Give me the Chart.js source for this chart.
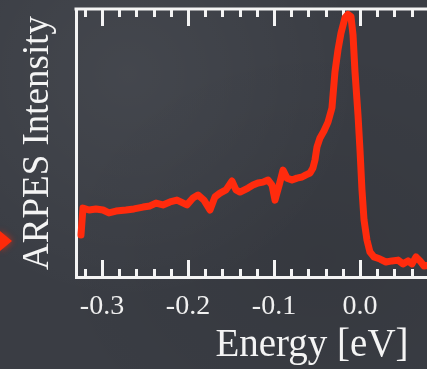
<!DOCTYPE html>
<html>
<head>
<meta charset="utf-8">
<script src="https://cdn.jsdelivr.net/npm/chart.js@4.4.0/dist/chart.umd.min.js"></script>
<style>
    html, body {
        margin: 0;
        padding: 0;
        width: 427px;
        height: 369px;
        overflow: hidden;
    }
    body {
        background-color: #3a3d44;
        background-image:
            radial-gradient(ellipse at 30% 20%, rgba(255,255,255,0.05), rgba(255,255,255,0) 55%),
            radial-gradient(ellipse at 75% 70%, rgba(0,0,0,0.08), rgba(0,0,0,0) 60%);
    }
    #chartBox {
        position: relative;
        width: 427px;
        height: 369px;
        overflow: hidden;
    }
</style>
</head>
<body>
<div id="chartBox">
    <!-- the plot runs on past the right edge of the window, as in the slide -->
    <canvas id="arpesChart" width="548" height="369"></canvas>
</div>
<script>
// Energy (eV) and intensity (arb. units, 0-100)
const energy = [
    -0.3244, -0.3221, -0.3151, -0.3070, -0.2988, -0.2919, -0.2837, -0.2721, -0.2628, -0.2523,
    -0.2442, -0.2372, -0.2291, -0.2209, -0.2128, -0.2012, -0.1942, -0.1884, -0.1814, -0.1744,
    -0.1686, -0.1628, -0.1558, -0.1488, -0.1442, -0.1395, -0.1302, -0.1244, -0.1186, -0.1128,
    -0.1070, -0.1023, -0.0988, -0.0942, -0.0895, -0.0849, -0.0791, -0.0733, -0.0674, -0.0628,
    -0.0581, -0.0547, -0.0523, -0.0500, -0.0465, -0.0419, -0.0372, -0.0326, -0.0291, -0.0256,
    -0.0221, -0.0174, -0.0140, -0.0105, -0.0081, -0.0058, -0.0023, 0.0000, 0.0023, 0.0047,
    0.0081, 0.0116, 0.0163, 0.0233, 0.0302, 0.0372, 0.0442, 0.0500, 0.0558, 0.0605,
    0.0651, 0.0698, 0.0744, 0.0814
];
const intensity = [
    15.7, 25.7, 25.0, 25.4, 25.0, 23.9, 24.6, 25.0, 25.4, 26.1,
    26.5, 27.6, 26.9, 28.0, 28.7, 26.9, 29.5, 30.6, 28.7, 25.0,
    29.9, 31.3, 32.5, 35.8, 32.5, 31.7, 33.2, 34.3, 35.1, 35.4,
    36.2, 34.3, 28.7, 34.0, 39.9, 36.9, 36.2, 36.9, 37.3, 38.1,
    38.8, 40.7, 43.7, 48.5, 51.9, 54.5, 57.8, 63.1, 76.5, 84.7,
    91.0, 96.8, 98.0, 97.2, 90.3, 76.5, 60.4, 47.4, 32.5, 21.3,
    13.8, 9.3, 7.5, 6.7, 5.6, 6.0, 6.3, 4.9, 6.0, 4.9,
    7.5, 6.0, 4.1, 4.5
];

// axis ticks
const majorTicks = [-0.3, -0.2, -0.1, 0.0];
const minorTicks = [
    -0.32, -0.28, -0.26, -0.24, -0.22, -0.18, -0.16, -0.14, -0.12,
    -0.08, -0.06, -0.04, -0.02, 0.02, 0.04, 0.06, 0.08
];

const xMin = -0.3302;
const xMax = 0.2186;

// draws the top frame line and the inward tick marks
const frameTicks = {
    id: 'frameTicks',
    beforeDatasetsDraw(chart) {
        const ctx = chart.ctx;
        const area = chart.chartArea;
        const x = chart.scales.x;
        ctx.save();
        ctx.strokeStyle = '#f4f4f4';
        ctx.lineWidth = 3;
        ctx.beginPath();
        ctx.moveTo(area.left - 1.5, area.top);
        ctx.lineTo(chart.width, area.top);
        ctx.stroke();

        const drawTick = (v, len) => {
            const px = Math.round(x.getPixelForValue(v)) + 0.5;
            ctx.beginPath();
            ctx.moveTo(px, area.top);
            ctx.lineTo(px, area.top + len);
            ctx.moveTo(px, area.bottom);
            ctx.lineTo(px, area.bottom - len);
            ctx.stroke();
        };
        majorTicks.forEach(v => drawTick(v, 17));
        minorTicks.forEach(v => drawTick(v, 8));
        ctx.restore();
    },
    afterDraw(chart) {
        // red bullet arrow on the left edge
        const ctx = chart.ctx;
        ctx.save();
        ctx.fillStyle = '#ff2a0a';
        ctx.shadowColor = 'rgba(255, 40, 10, 0.8)';
        ctx.shadowBlur = 6;
        ctx.beginPath();
        ctx.moveTo(0, 231);
        ctx.lineTo(12, 241);
        ctx.lineTo(0, 251);
        ctx.closePath();
        ctx.fill();
        ctx.restore();
    }
};

const ctx = document.getElementById('arpesChart').getContext('2d');

new Chart(ctx, {
    type: 'line',
    data: {
        datasets: [{
            label: 'ARPES',
            data: energy.map((e, i) => ({ x: e, y: intensity[i] })),
            borderColor: '#ff2b0d',
            borderWidth: 7,
            borderJoinStyle: 'round',
            borderCapStyle: 'round',
            pointRadius: 0,
            tension: 0,
            fill: false
        }]
    },
    options: {
        responsive: false,
        animation: false,
        layout: {
            padding: { top: 9, right: 0, bottom: 0, left: 0 }
        },
        plugins: {
            legend: { display: false },
            tooltip: { enabled: false }
        },
        scales: {
            x: {
                type: 'linear',
                min: xMin,
                max: xMax,
                afterBuildTicks: scale => {
                    scale.ticks = majorTicks.map(v => ({ value: v }));
                },
                afterFit: scale => { scale.height = 92; },
                grid: { display: false, drawTicks: false },
                border: { display: true, color: '#f4f4f4', width: 3 },
                ticks: {
                    color: '#f0f0f0',
                    padding: 13,
                    maxRotation: 0,
                    autoSkip: false,
                    font: { family: '"Liberation Serif", "Times New Roman", serif', size: 28 },
                    callback: v => Number(v).toFixed(1)
                },
                title: {
                    display: true,
                    text: 'Energy [eV]',
                    color: '#f4f4f4',
                    padding: { top: 0, bottom: 0 },
                    font: { family: '"Liberation Serif", "Times New Roman", serif', size: 39 }
                }
            },
            y: {
                min: 0,
                max: 100,
                afterFit: scale => { scale.width = 76; },
                grid: { display: false, drawTicks: false },
                border: { display: true, color: '#f4f4f4', width: 3 },
                ticks: { display: false },
                title: {
                    display: true,
                    text: 'ARPES Intensity',
                    color: '#f4f4f4',
                    padding: { top: 16, bottom: 0 },
                    font: { family: '"Liberation Serif", "Times New Roman", serif', size: 37 }
                }
            }
        }
    },
    plugins: [frameTicks]
});
</script>
</body>
</html>
